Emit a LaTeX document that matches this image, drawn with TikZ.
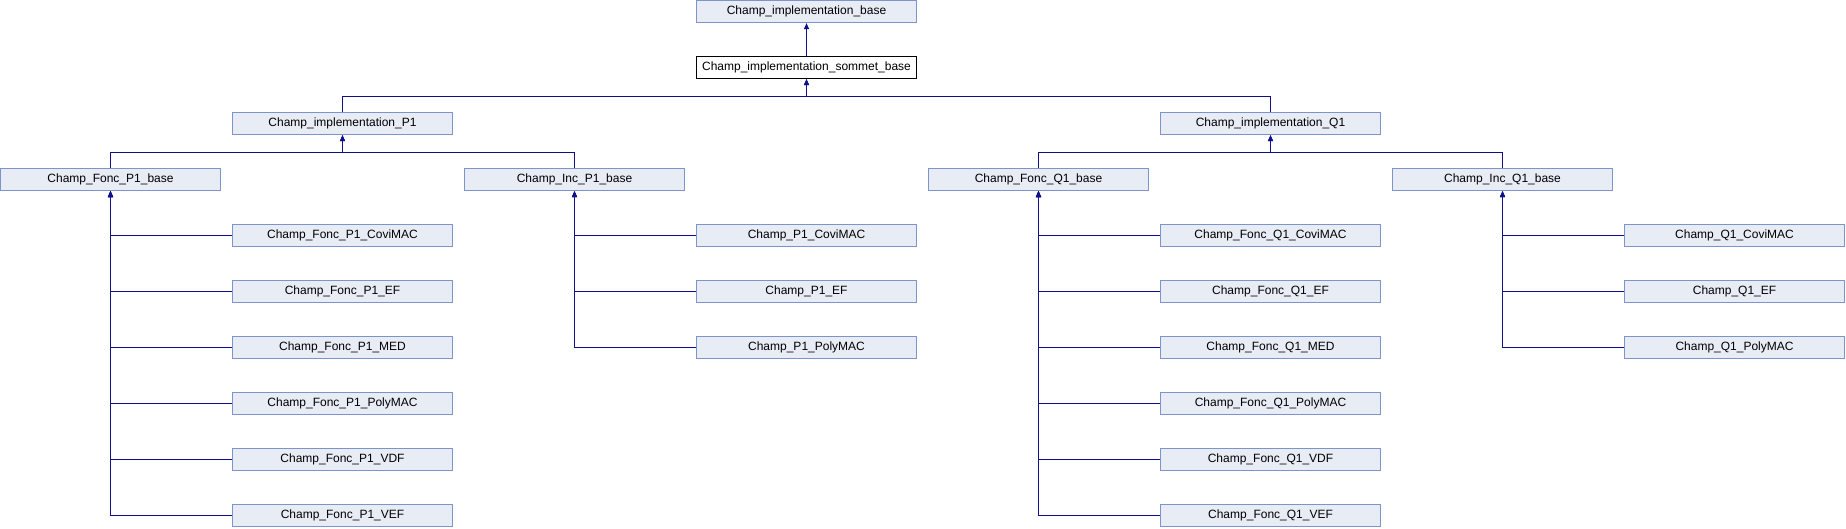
\documentclass[tikz,border=0pt]{standalone}
\usepackage{fontspec}
\setmainfont{Liberation Sans}
\usetikzlibrary{arrows.meta,calc}
\definecolor{edgecol}{RGB}{16,16,140}
\definecolor{boxfill}{RGB}{232,236,245}
\definecolor{boxline}{RGB}{124,148,202}
\tikzset{
  cls/.style={draw=boxline, fill=boxfill, line width=1pt, minimum width=220pt, minimum height=21.8pt, inner sep=0pt, font=\fontsize{12}{14}\selectfont},
  clsmain/.style={cls, draw=black, fill=white},
  link/.style={draw=edgecol, line width=1pt, -{Triangle[length=6pt,width=5pt]}},
}
\begin{document}
\begin{tikzpicture}[x=1pt,y=-1pt]
\useasboundingbox (0,0) rectangle (1846,528);
\def\cx#1{\fpeval{232*#1+110.5}}
% nodes
\node[cls] (base) at ({232*3+110.5},{11.7}) {Champ\_implementation\_base};
\node[clsmain] (sommet) at ({232*3+110.5},{56+11.7}) {Champ\_implementation\_sommet\_base};
\node[cls] (implP1) at ({232*1+110.5},{112+11.7}) {Champ\_implementation\_P1};
\node[cls] (implQ1) at ({232*5+110.5},{112+11.7}) {Champ\_implementation\_Q1};
\node[cls] (foncP1) at ({232*0+110.5},{168+11.7}) {Champ\_Fonc\_P1\_base};
\node[cls] (incP1) at ({232*2+110.5},{168+11.7}) {Champ\_Inc\_P1\_base};
\node[cls] (foncQ1) at ({232*4+110.5},{168+11.7}) {Champ\_Fonc\_Q1\_base};
\node[cls] (incQ1) at ({232*6+110.5},{168+11.7}) {Champ\_Inc\_Q1\_base};
% bus coordinates
\coordinate (busS) at (0,96.3);
\coordinate (busP) at (0,152.3);
\coordinate (busQ) at (0,152.3);
% top edges
\draw[link] (sommet.north) -- (base.south);
\draw[link] (implP1.north) |- (sommet.south |- busS) -- (sommet.south);
\draw[link] (implQ1.north) |- (sommet.south |- busS) -- (sommet.south);
\draw[link] (foncP1.north) |- (implP1.south |- busP) -- (implP1.south);
\draw[link] (incP1.north) |- (implP1.south |- busP) -- (implP1.south);
\draw[link] (foncQ1.north) |- (implQ1.south |- busQ) -- (implQ1.south);
\draw[link] (incQ1.north) |- (implQ1.south |- busQ) -- (implQ1.south);
% Fonc P1 children
\foreach \s [count=\i from 4] in {CoviMAC,EF,MED,PolyMAC,VDF,VEF}{
  \node[cls] (fp\s) at ({232*1+110.5},{56*\i+11.7}) {Champ\_Fonc\_P1\_\s};
  \draw[link] (fp\s.west) -| (foncP1.south);
}
% Inc P1 children
\foreach \s [count=\i from 4] in {CoviMAC,EF,PolyMAC}{
  \node[cls] (ip\s) at ({232*3+110.5},{56*\i+11.7}) {Champ\_P1\_\s};
  \draw[link] (ip\s.west) -| (incP1.south);
}
% Fonc Q1 children
\foreach \s [count=\i from 4] in {CoviMAC,EF,MED,PolyMAC,VDF,VEF}{
  \node[cls] (fq\s) at ({232*5+110.5},{56*\i+11.7}) {Champ\_Fonc\_Q1\_\s};
  \draw[link] (fq\s.west) -| (foncQ1.south);
}
% Inc Q1 children
\foreach \s [count=\i from 4] in {CoviMAC,EF,PolyMAC}{
  \node[cls] (iq\s) at ({232*7+110.5},{56*\i+11.7}) {Champ\_Q1\_\s};
  \draw[link] (iq\s.west) -| (incQ1.south);
}
\end{tikzpicture}
\end{document}
